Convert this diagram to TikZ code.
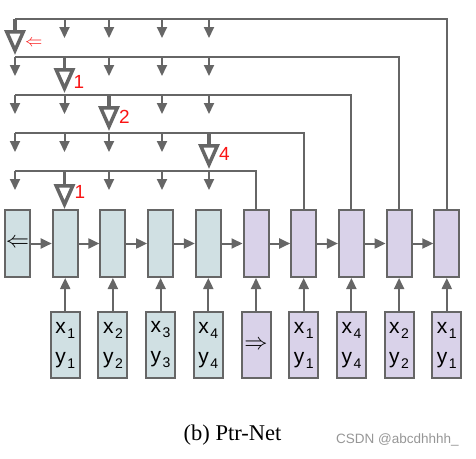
\documentclass[tikz,border=0pt]{standalone}
\usepackage{fontspec}
\usepackage{graphicx}
\setmainfont{Liberation Serif}
\setsansfont{Liberation Sans}
\usetikzlibrary{arrows.meta,positioning}
\definecolor{edgegray}{RGB}{102,102,102}
\definecolor{encfill}{RGB}{208,224,227}
\definecolor{decfill}{RGB}{217,210,233}
\definecolor{ptrred}{RGB}{250,20,20}
\definecolor{markgray}{RGB}{150,150,150}
\tikzset{
  cell/.style={draw=edgegray, line width=2pt, minimum width=25pt,
    minimum height=67pt, inner sep=0pt},
  enccell/.style={cell, fill=encfill},
  deccell/.style={cell, fill=decfill},
  inbox/.style={draw=edgegray, line width=2pt, minimum width=29pt,
    minimum height=66pt, inner sep=0pt, align=center,
    font=\sffamily\fontsize{21}{30}\selectfont},
  encin/.style={inbox, fill=encfill},
  decin/.style={inbox, fill=decfill},
  flow/.style={-{Triangle[length=11pt,width=10pt]}, line width=2pt, draw=edgegray},
  rail/.style={line width=2pt, draw=edgegray},
  ptr/.style={-{Triangle[open,length=25pt,width=21pt]}, line width=3.5pt, draw=edgegray},
  ptrlabel/.style={text=ptrred, font=\sffamily\fontsize{19}{19}\selectfont,
    inner sep=0pt, anchor=west}
}
\newcommand{\lowsub}[1]{\kern1.5pt\raisebox{-5pt}{\fontsize{14}{14}\selectfont #1}}
\newcommand{\xypair}[2]{x\lowsub{#1}\\y\lowsub{#2}}
\newcommand{\bigsym}[1]{\scalebox{1.12}{\fontsize{20}{20}\selectfont #1}}

\begin{document}
\begin{tikzpicture}[x=1pt, y=-1pt]
\useasboundingbox (0,0) rectangle (476,458);
% encoder and decoder cells
\node[enccell] (e1) at (17.5,243.5) {\bigsym{$\Leftarrow$}};
\node[enccell, right=20.7pt of e1] (e2) {};
\node[enccell, right=20.7pt of e2] (e3) {};
\node[enccell, right=20.7pt of e3] (e4) {};
\node[enccell, right=20.7pt of e4] (e5) {};
\node[deccell, right=20.7pt of e5] (d1) {};
\node[deccell, right=20.7pt of d1] (d2) {};
\node[deccell, right=20.7pt of d2] (d3) {};
\node[deccell, right=20.7pt of d3] (d4) {};
\node[deccell, right=20.7pt of d4] (d5) {};
% inputs
\node[encin, below=33pt of e2] (i2) {\xypair{1}{1}};
\node[encin, below=33pt of e3] (i3) {\xypair{2}{2}};
\node[encin, below=33pt of e4] (i4) {\xypair{3}{3}};
\node[encin, below=33pt of e5] (i5) {\xypair{4}{4}};
\node[decin, below=33pt of d1] (j1) {\bigsym{$\Rightarrow$}};
\node[decin, below=33pt of d2] (j2) {\xypair{1}{1}};
\node[decin, below=33pt of d3] (j3) {\xypair{4}{4}};
\node[decin, below=33pt of d4] (j4) {\xypair{2}{2}};
\node[decin, below=33pt of d5] (j5) {\xypair{1}{1}};

\foreach \a/\b in {e1/e2,e2/e3,e3/e4,e4/e5,e5/d1,d1/d2,d2/d3,d3/d4,d4/d5}
  \draw[flow] (\a) -- (\b);
\foreach \a/\b in {i2/e2,i3/e3,i4/e4,i5/e5,j1/d1,j2/d2,j3/d3,j4/d4,j5/d5}
  \draw[flow] (\a) -- (\b);

% pointer rails
\coordinate (r1) at (15,19);
\coordinate (r2) at (15,57);
\coordinate (r3) at (15,95);
\coordinate (r4) at (15,133);
\coordinate (r5) at (15,171);
\foreach \x [count=\c] in {15,64.5,109,162,209}
  \coordinate (c\c) at (\x,0);
\draw[rail] (d5.north) |- (r1);
\draw[rail] (d4.north) |- (r2);
\draw[rail] (d3.north) |- (r3);
\draw[rail] (d2.north) |- (r4);
\draw[rail] (d1.north) |- (r5);

\foreach \r/\b in {1/1,2/2,3/3,4/5,5/2}
  \foreach \c in {1,...,5}
    {\ifnum\c=\b\else \draw[flow] (c\c |- r\r) -- ++(0,19); \fi}

% chosen pointers
\draw[ptr] (c1 |- r1) -- ([yshift=2pt]c1 |- r2);
\draw[ptr] (c2 |- r2) -- ([yshift=2pt]c2 |- r3);
\draw[ptr] (c3 |- r3) -- ([yshift=2pt]c3 |- r4);
\draw[ptr] (c5 |- r4) -- ([yshift=2pt]c5 |- r5);
\draw[ptr] (c2 |- r5) -- (c2 |- e2.north);
\node[ptrlabel, font=\fontsize{19}{19}\selectfont] (l1) at ([xshift=10pt, yshift=-24pt]c1 |- r1) {$\Leftarrow$};
\node[ptrlabel] (l2) at ([xshift=9pt, yshift=-25pt]c2 |- r2) {1};
\node[ptrlabel] (l3) at ([xshift=10pt, yshift=-22pt]c3 |- r3) {2};
\node[ptrlabel] (l4) at ([xshift=10pt, yshift=-21pt]c5 |- r4) {4};
\node[ptrlabel] (l5) at ([xshift=10pt, yshift=-21pt]c2 |- r5) {1};

\node[font=\fontsize{22.5}{22.5}\selectfont] (cap) at (232.5,435) {(b) Ptr-Net};
\node[text=markgray, font=\sffamily\fontsize{13.5}{13.5}\selectfont] (mark) at (397.5,440) {CSDN @abcdhhhh\_};
\end{tikzpicture}
\end{document}
